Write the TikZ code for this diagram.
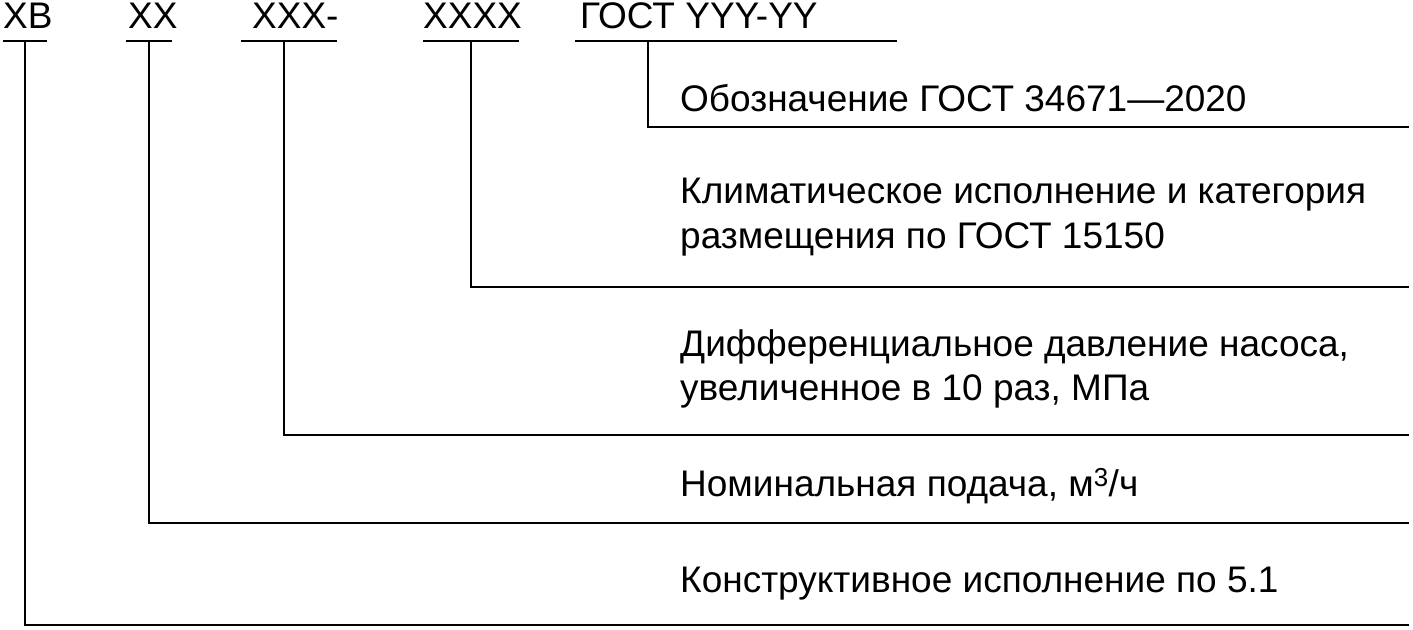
\documentclass[tikz,border=0pt]{standalone}
\usepackage{fontspec}
\setmainfont{Liberation Sans}
\begin{document}
\begin{tikzpicture}[x=1pt,y=-1pt,
  lbl/.style={anchor=base west,inner sep=0pt,font=\fontsize{37}{44}\selectfont},
  ln/.style={line width=2.8pt,line cap=butt,line join=miter}]
\useasboundingbox (0,0) rectangle (1413,629);
% top labels
\node[lbl] (xb) at (3,28) {ХВ};
\node[lbl] (xx) at (128,28) {ХХ};
\node[lbl] (xxx) at (252,28) {ХХХ-};
\node[lbl] (xxxx) at (423,28) {ХХХХ};
\node[lbl] (gost) at (580,28) {ГОСТ YYY-YY};
% underlines
\draw[ln] (3,41) -- (47,41);
\draw[ln] (126,41) -- (172,41);
\draw[ln] (241,41) -- (337,41);
\draw[ln] (423,41) -- (519,41);
\draw[ln] (575,41) -- (897,41);
% leader coordinates
\coordinate (a1) at (648,41); \coordinate (b1) at (1409,127);
\coordinate (a2) at (471,41); \coordinate (b2) at (1409,287);
\coordinate (a3) at (284,41); \coordinate (b3) at (1409,435);
\coordinate (a4) at (149,41); \coordinate (b4) at (1409,523);
\coordinate (a5) at (25,41);  \coordinate (b5) at (1409,625);
\foreach \i in {1,...,5}{\draw[ln] (a\i) |- (b\i);}
% descriptions
\node[lbl] (t1) at (680,111) {Обозначение ГОСТ 34671—2020};
\node[lbl] (t2) at (680,203) {Климатическое исполнение и категория};
\node[lbl] (t2b) at (680,248) {размещения по ГОСТ 15150};
\node[lbl] (t3) at (680,356) {Дифференциальное давление насоса,};
\node[lbl] (t3b) at (680,400) {увеличенное в 10 раз, МПа};
\node[lbl] (t4) at (680,496) {Номинальная подача, м\textsuperscript{3}/ч};
\node[lbl] (t5) at (680,592) {Конструктивное исполнение по 5.1};
\end{tikzpicture}
\end{document}
